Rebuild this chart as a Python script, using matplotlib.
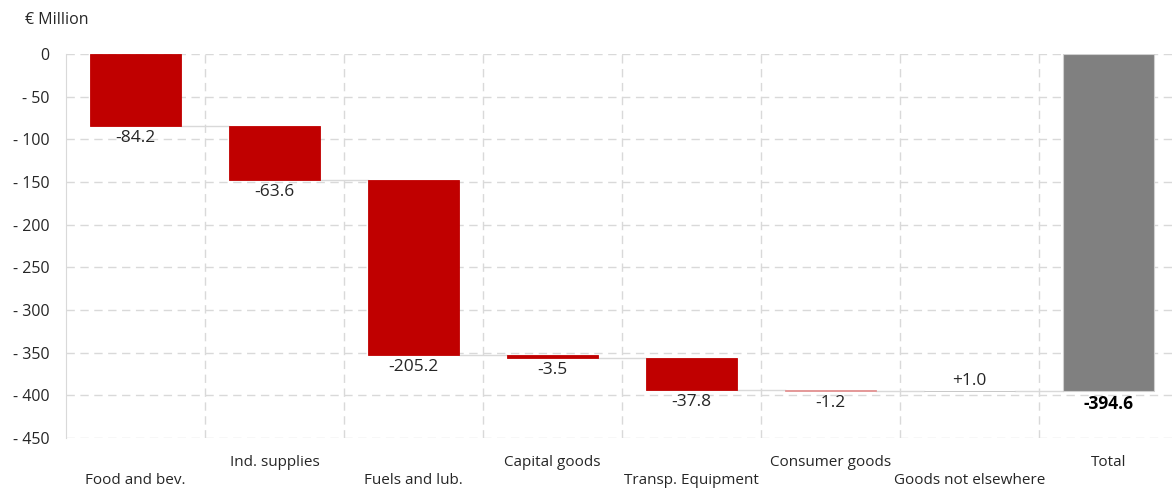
import matplotlib
matplotlib.use("Agg")
import matplotlib.pyplot as plt
import numpy as np

categories = ["Food and bev.", "Ind. supplies", "Fuels and lub.", "Capital goods",
              "Transp. Equipment", "Consumer goods", "Goods not elsewhere", "Total"]
changes = [-84.2, -63.6, -205.2, -3.5, -37.8, -1.2, 1.0]
total = -394.6
labels = ["-84.2", "-63.6", "-205.2", "-3.5", "-37.8", "-1.2", "+1.0", "-394.6"]
yticks = [0, -50, -100, -150, -200, -250, -300, -350, -400, -450]
ytick_labels = ["0", "- 50", "- 100", "- 150", "- 200", "- 250", "- 300", "- 350", "- 400", "- 450"]

plt.rcParams['font.family'] = ['Open Sans', 'DejaVu Sans']

W, H = 1172, 488
fig = plt.figure(figsize=(W / 100, H / 100), dpi=100)
ax = fig.add_axes([66 / W, 50 / H, 1112 / W, 384 / H])

red = "#C00000"
grey = "#808080"
pos_col = "#BFBFBF"
grid_col = "#D9D9D9"
width = 0.655

running = 0.0
starts = []
ends = []
for v in changes:
    starts.append(running)
    running += v
    ends.append(running)

for i, v in enumerate(changes):
    col = red if v < 0 else pos_col
    edge = "#E6A0A0" if abs(v) < 2 and v < 0 else col
    ax.bar(i, v, bottom=starts[i], width=width, color=col, edgecolor=edge,
           linewidth=0.6, zorder=3)
ax.bar(7, total, bottom=0, width=width, color=grey, edgecolor="#D0D0D0",
       linewidth=0.8, zorder=3)

# connectors
for i in range(len(changes)):
    ax.plot([i + width / 2, i + 1 - width / 2], [ends[i], ends[i]],
            color=grid_col, lw=1, zorder=2)

# value labels
for i, v in enumerate(changes):
    if v < 0:
        ax.annotate(labels[i], xy=(i, ends[i]), xytext=(0, -4), textcoords="offset pixels",
                    ha="center", va="top", fontsize=12.5, color="#262626", zorder=4)
    else:
        ax.annotate(labels[i], xy=(i, ends[i]), xytext=(0, 2), textcoords="offset pixels",
                    ha="center", va="bottom", fontsize=12.5, color="#262626", zorder=4)
ax.annotate(labels[7], xy=(7, total), xytext=(0, -4), textcoords="offset pixels",
            ha="center", va="top", fontsize=12.5, color="black", fontweight="bold", zorder=4)

ax.set_xlim(-0.5, 7.5)
ax.set_ylim(-450, 0)
ax.set_yticks(yticks)
ax.set_yticklabels(ytick_labels, fontsize=11.5, color="#262626")
ax.set_xticks([])
ax.set_xticks(np.arange(0.5, 7, 1), minor=True)
ax.tick_params(axis="both", which="both", length=0)
ax.tick_params(axis="y", pad=12)

ax.grid(axis="y", which="major", color=grid_col, linestyle=(0, (6, 4)), lw=1, zorder=0)
ax.grid(axis="x", which="minor", color=grid_col, linestyle=(0, (6, 4)), lw=1, zorder=0)

for s in ["top", "right", "bottom"]:
    ax.spines[s].set_visible(False)
ax.spines["left"].set_color(grid_col)

for i, c in enumerate(categories):
    off = -24 if i % 2 == 1 else -43
    ax.annotate(c, xy=(i, 0), xycoords=("data", "axes fraction"), xytext=(0, off),
                textcoords="offset pixels", ha="center", va="center",
                fontsize=11, color="#262626", annotation_clip=False)

fig.text(25 / W, 1 - 20 / H, "€ Million", ha="left", va="center", fontsize=11.5, color="#262626")

fig.savefig("out.png", dpi=100)
